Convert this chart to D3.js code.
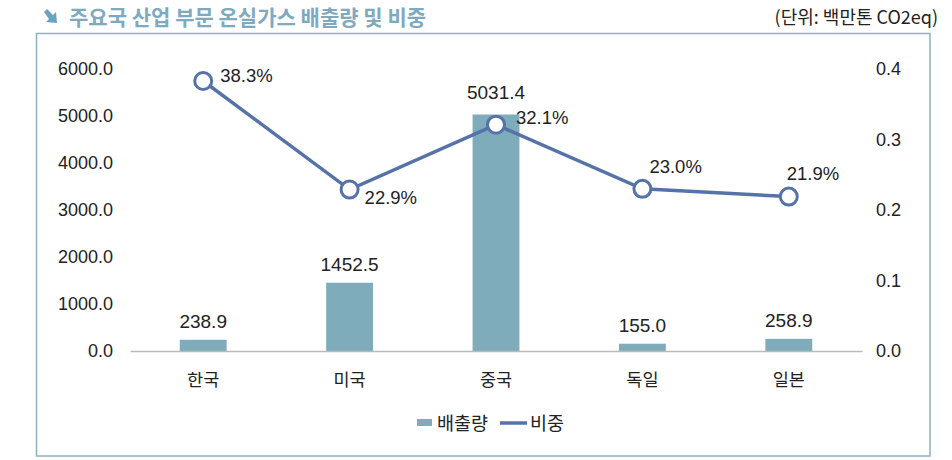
<!DOCTYPE html>
<html><head><meta charset="utf-8">
<script src="https://cdn.jsdelivr.net/npm/d3@7"></script>
<style>body{margin:0;background:#fff;} svg{display:block;font-family:"Noto Sans CJK KR","Noto Sans",sans-serif;}</style>
</head><body><svg id="c" width="952" height="460"></svg>
<script>
const categories = ["한국","미국","중국","독일","일본"];
const emissions = [238.9,1452.5,5031.4,155.0,258.9];
const shares = [0.383,0.229,0.321,0.230,0.219];
const shareLabels = ["38.3%","22.9%","32.1%","23.0%","21.9%"];
const leftTicks = [0,1000,2000,3000,4000,5000,6000];
const rightTicks = [0,0.1,0.2,0.3,0.4];

const svg = d3.select("#c");
const barColor = "#7eacbb", lineColor = "#5673a8";
const numFont = "Liberation Sans, Arial, sans-serif";

// frame
svg.append("rect").attr("x",36.5).attr("y",33.5).attr("width",893.5).attr("height",422.5)
  .attr("fill","none").attr("stroke","#8fb0bd").attr("stroke-width",1.5);

// title
svg.append("path").attr("d","M44,12 L47,9 L53,15 L56,12 L57,23 L46,22 L49,19 Z").attr("fill","#6da3c0");
svg.append("text").attr("x",69).attr("y",25).attr("font-size",21).attr("font-weight","bold")
  .attr("fill","#7fa9bf").text("주요국 산업 부문 온실가스 배출량 및 비중");
svg.append("text").attr("x",938).attr("y",24).attr("text-anchor","end").attr("font-size",18)
  .attr("fill","#222").text("(단위: 백만톤 CO2eq)");

const x = d3.scaleBand().domain(categories).range([130,862]).paddingInner(0.68).paddingOuter(0.34);
const yL = d3.scaleLinear().domain([0,6000]).range([351,69]);
const yR = d3.scaleLinear().domain([0,0.4]).range([351,69]);

// left axis
const gL = svg.append("g").attr("transform","translate(113,0)")
  .call(d3.axisLeft(yL).tickValues(leftTicks).tickFormat(d3.format(".1f")).tickSize(0).tickPadding(0));
gL.select(".domain").remove();
gL.selectAll("text").attr("font-size",18).attr("fill","#222").attr("font-family",numFont);

const gR = svg.append("g").attr("transform","translate(876,0)")
  .call(d3.axisRight(yR).tickValues(rightTicks).tickFormat(d3.format(".1f")).tickSize(0).tickPadding(0));
gR.select(".domain").remove();
gR.selectAll("text").attr("font-size",18).attr("fill","#222").attr("font-family",numFont);

// bars
svg.append("g").selectAll("rect").data(categories).join("rect")
  .attr("x",d=>x(d)).attr("width",x.bandwidth())
  .attr("y",(d,i)=>yL(emissions[i])).attr("height",(d,i)=>yL(0)-yL(emissions[i]))
  .attr("fill",barColor);

// x axis
const gX = svg.append("g").attr("transform","translate(0,351)")
  .call(d3.axisBottom(x).tickSize(0).tickPadding(23));
gX.select(".domain").attr("stroke","#bbb").attr("stroke-width",1.5);
gX.selectAll("text").attr("font-size",17.5).attr("fill","#222").attr("font-family","Noto Sans CJK KR");

// bar labels
const barLabelGap = [12,12,16,12,12];
svg.append("g").selectAll("text").data(categories).join("text")
  .attr("x",d=>x(d)+x.bandwidth()/2).attr("y",(d,i)=>yL(emissions[i])-barLabelGap[i])
  .attr("text-anchor","middle").attr("font-size",19).attr("fill","#222").attr("font-family",numFont)
  .text((d,i)=>emissions[i].toFixed(1));

// line
const cx = d=>x(d)+x.bandwidth()/2;
const line = d3.line().x((d,i)=>cx(categories[i])).y(d=>yR(d));
svg.append("path").datum(shares).attr("d",line).attr("fill","none").attr("stroke",lineColor).attr("stroke-width",3.5);
svg.append("g").selectAll("circle").data(shares).join("circle")
  .attr("cx",(d,i)=>cx(categories[i])).attr("cy",d=>yR(d)).attr("r",8.5)
  .attr("fill","#fff").attr("stroke",lineColor).attr("stroke-width",3);

const offs = [[17,1],[15,14],[20,-1],[7,-16],[-2,-17]];
svg.append("g").selectAll("text").data(shares).join("text")
  .attr("x",(d,i)=>cx(categories[i])+offs[i][0]).attr("y",(d,i)=>yR(d)+offs[i][1])
  .attr("font-size",18.5).attr("fill","#222").attr("font-family",numFont)
  .text((d,i)=>shareLabels[i]);

// legend
svg.append("rect").attr("x",417).attr("y",419).attr("width",15).attr("height",7).attr("fill",barColor);
svg.append("text").attr("x",437).attr("y",430).attr("font-size",18.5).attr("fill","#222").text("배출량");
svg.append("line").attr("x1",500).attr("x2",527).attr("y1",423).attr("y2",423).attr("stroke",lineColor).attr("stroke-width",3.5);
svg.append("text").attr("x",530).attr("y",430).attr("font-size",18.5).attr("fill","#222").text("비중");
</script></body></html>
